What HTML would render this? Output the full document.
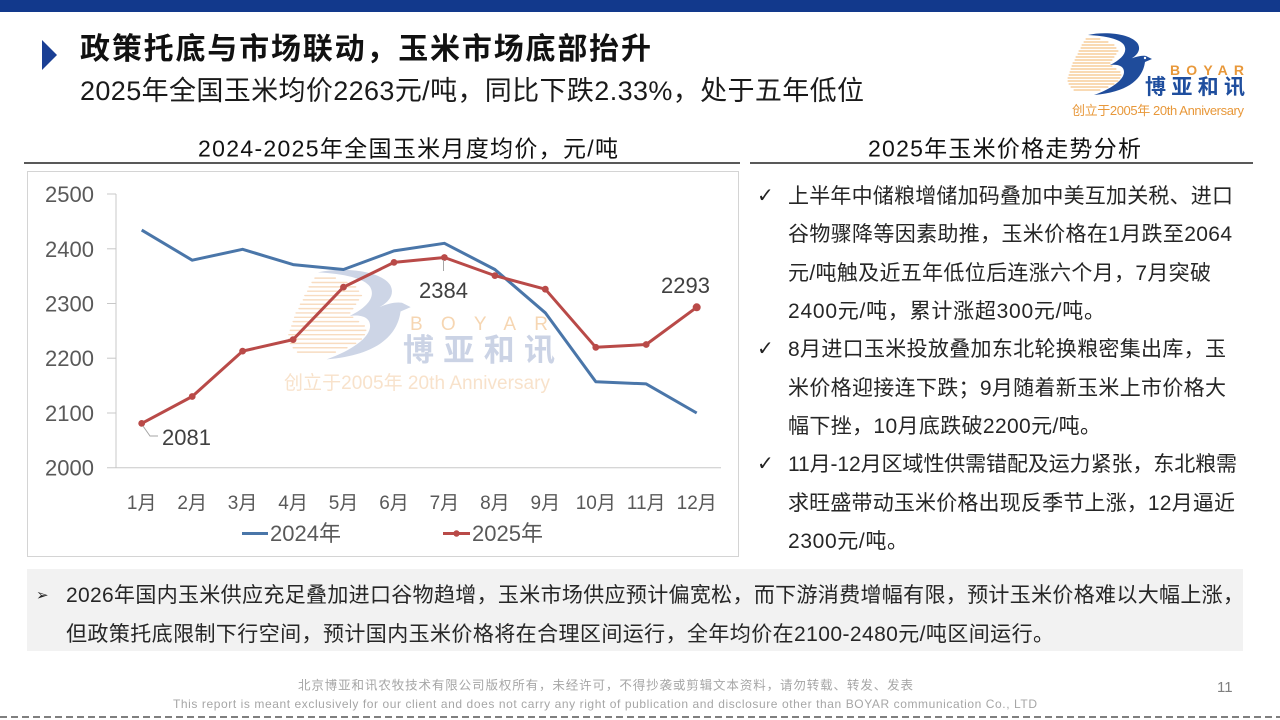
<!DOCTYPE html>
<html><head><meta charset="utf-8"><style>
html,body{margin:0;padding:0;background:#fff;}
svg{display:block;}
text{font-family:"Liberation Sans","Noto Sans CJK SC",sans-serif;}
</style></head><body>
<svg width="1280" height="720" viewBox="0 0 1280 720" xmlns="http://www.w3.org/2000/svg">
<defs>
<g id="stripes" stroke-width="1" stroke-linecap="round">
    <line x1="20" y1="7" x2="34" y2="7"/><line x1="18" y1="10" x2="42" y2="10"/>
    <line x1="16" y1="13" x2="48" y2="13"/><line x1="15" y1="16" x2="50" y2="16"/>
    <line x1="13" y1="19" x2="52" y2="19"/><line x1="12" y1="22" x2="50" y2="22"/>
    <line x1="10" y1="25" x2="48" y2="25"/><line x1="9" y1="28" x2="46" y2="28"/>
    <line x1="7" y1="31" x2="44" y2="31"/><line x1="6" y1="34" x2="46" y2="34"/>
    <line x1="5" y1="37" x2="50" y2="37"/><line x1="4" y1="40" x2="54" y2="40"/>
    <line x1="3" y1="43" x2="55" y2="43"/><line x1="2" y1="46" x2="54" y2="46"/>
    <line x1="2" y1="49" x2="52" y2="49"/><line x1="3" y1="52" x2="48" y2="52"/>
    <line x1="5" y1="55" x2="42" y2="55"/><line x1="8" y1="58" x2="34" y2="58"/>
</g>
<path id="bshape" d="M22,3 C40,-1 66,2 72,12 C76,20 68,26 60,29 C66,26 74,23 80,24 L86,27 L79,30 C77,45 65,60 28,63 C45,57 58,48 58,40 C58,34 52,32 44,33 C56,27 62,20 58,13 C54,7 40,4 22,3 Z"/>
</defs>

<!-- top bar -->
<rect x="0" y="0" width="1280" height="12" fill="#12398c"/>

<!-- title -->
<polygon points="42,40 57,55 42,70" fill="#1a3f94"/>
<text x="80" y="59" font-size="30" font-weight="bold" fill="#111" textLength="571">政策托底与市场联动，玉米市场底部抬升</text>
<text x="80" y="100" font-size="27" fill="#1a1a1a" textLength="784">2025年全国玉米均价2263元/吨，同比下跌2.33%，处于五年低位</text>

<!-- logo -->
<g transform="translate(1066,32)">
  <use href="#stripes" stroke="#f3b46a"/>
  <use href="#bshape" fill="#1f4c9b"/>
  <circle cx="79" cy="26" r="1.2" fill="#fff"/>
</g>
<text x="1170" y="75" font-size="14" font-weight="bold" fill="#e8983a" textLength="74">BOYAR</text>
<text x="1145" y="94" font-size="21" font-weight="bold" fill="#1f4e9e" textLength="100">博亚和讯</text>
<text x="1072" y="115" font-size="13" fill="#e8983a" textLength="172">创立于2005年 20th Anniversary</text>

<!-- section titles -->
<text x="198" y="156.5" font-size="23" fill="#111" textLength="420">2024-2025年全国玉米月度均价，元/吨</text>
<line x1="24" y1="163" x2="740" y2="163" stroke="#222" stroke-width="1.5"/>
<text x="868" y="156.5" font-size="23" fill="#111" textLength="273">2025年玉米价格走势分析</text>
<line x1="750" y1="163" x2="1253" y2="163" stroke="#222" stroke-width="1.5"/>

<!-- chart frame -->
<rect x="27.5" y="171.5" width="711" height="385" fill="#fff" stroke="#d4d4d4" stroke-width="1"/>

<!-- watermark -->
<g transform="translate(286,268) scale(1.45)">
  <use href="#stripes" stroke="#f8dcc0"/>
  <use href="#bshape" fill="#cdd5e6"/>
</g>
<text x="410" y="330" font-size="19" fill="#f6d6b2" textLength="138">BOYAR</text>
<text x="403" y="361" font-size="31" font-weight="bold" fill="#cbd3e5" textLength="152">博亚和讯</text>
<text x="284" y="389" font-size="19" fill="#f8e2cb" textLength="266">创立于2005年 20th Anniversary</text>

<!-- axes -->
<g stroke="#c8c8c8" stroke-width="1">
  <line x1="116" y1="194" x2="116" y2="467.7"/>
  <line x1="107" y1="467.7" x2="721" y2="467.7"/>
  <line x1="107" y1="194" x2="116" y2="194"/>
  <line x1="107" y1="248.8" x2="116" y2="248.8"/>
  <line x1="107" y1="303.5" x2="116" y2="303.5"/>
  <line x1="107" y1="358.2" x2="116" y2="358.2"/>
  <line x1="107" y1="413" x2="116" y2="413"/>
</g>
<g font-size="22" fill="#595959" text-anchor="end">
  <text x="94" y="202">2500</text>
  <text x="94" y="256.8">2400</text>
  <text x="94" y="311.5">2300</text>
  <text x="94" y="366.2">2200</text>
  <text x="94" y="421">2100</text>
  <text x="94" y="475.7">2000</text>
</g>
<g font-size="19" fill="#595959" text-anchor="middle">
  <text x="141.7" y="509">1月</text>
  <text x="192.2" y="509">2月</text>
  <text x="242.6" y="509">3月</text>
  <text x="293.1" y="509">4月</text>
  <text x="343.5" y="509">5月</text>
  <text x="394.0" y="509">6月</text>
  <text x="444.4" y="509">7月</text>
  <text x="494.9" y="509">8月</text>
  <text x="545.3" y="509">9月</text>
  <text x="595.8" y="509">10月</text>
  <text x="646.2" y="509">11月</text>
  <text x="696.7" y="509">12月</text>
</g>

<!-- series -->
<polyline fill="none" stroke="#4a76a9" stroke-width="3" stroke-linejoin="round" points="141.7,230.1 192.2,260.2 242.6,249.3 293.1,264.6 343.5,269.5 394.0,250.9 444.4,243.3 494.9,269.5 545.3,312.8 595.8,381.8 646.2,383.9 696.7,413.0"/>
<polyline fill="none" stroke="#b94a48" stroke-width="3" stroke-linejoin="round" points="141.7,423.4 192.2,396.5 242.6,351.1 293.1,339.6 343.5,287.1 394.0,262.4 444.4,257.5 494.9,275.6 545.3,289.2 595.8,347.3 646.2,344.5 696.7,307.3"/>
<g fill="#b94a48">
  <circle cx="141.7" cy="423.4" r="3.4"/><circle cx="192.2" cy="396.5" r="3.4"/>
  <circle cx="242.6" cy="351.1" r="3.4"/><circle cx="293.1" cy="339.6" r="3.4"/>
  <circle cx="343.5" cy="287.1" r="3.4"/><circle cx="394.0" cy="262.4" r="3.4"/>
  <circle cx="444.4" cy="257.5" r="3.4"/><circle cx="494.9" cy="275.6" r="3.4"/>
  <circle cx="545.3" cy="289.2" r="3.4"/><circle cx="595.8" cy="347.3" r="3.4"/>
  <circle cx="646.2" cy="344.5" r="3.4"/><circle cx="696.7" cy="307.3" r="4"/>
</g>

<!-- data labels -->
<polyline fill="none" stroke="#a6a6a6" stroke-width="1" points="143,426 150,436 158,436"/>
<line x1="443.5" y1="260" x2="443.5" y2="271" stroke="#a6a6a6" stroke-width="1"/>
<g font-size="22" fill="#404040">
  <text x="162" y="445">2081</text>
  <text x="419" y="298">2384</text>
  <text x="661" y="293">2293</text>
</g>

<!-- legend -->
<line x1="242" y1="533.5" x2="268" y2="533.5" stroke="#4a76a9" stroke-width="3"/>
<text x="270" y="541" font-size="22" fill="#595959">2024年</text>
<line x1="443" y1="533.5" x2="470" y2="533.5" stroke="#b94a48" stroke-width="3"/>
<circle cx="456.5" cy="533.5" r="3.2" fill="#b94a48"/>
<text x="472" y="541" font-size="22" fill="#595959">2025年</text>

<!-- right analysis -->
<g font-size="20" fill="#222">
  <text x="757" y="202" style="font-family:'DejaVu Sans',sans-serif">✓</text>
  <text x="757" y="355" style="font-family:'DejaVu Sans',sans-serif">✓</text>
  <text x="757" y="470" style="font-family:'DejaVu Sans',sans-serif">✓</text>
</g>
<g font-size="21" fill="#262626">
  <text x="788" y="203" textLength="445">上半年中储粮增储加码叠加中美互加关税、进口</text>
  <text x="788" y="241" textLength="444">谷物骤降等因素助推，玉米价格在1月跌至2064</text>
  <text x="788" y="280" textLength="423">元/吨触及近五年低位后连涨六个月，7月突破</text>
  <text x="788" y="318" textLength="317">2400元/吨，累计涨超300元/吨。</text>
  <text x="788" y="356" textLength="438">8月进口玉米投放叠加东北轮换粮密集出库，玉</text>
  <text x="788" y="395" textLength="438">米价格迎接连下跌；9月随着新玉米上市价格大</text>
  <text x="788" y="433" textLength="313">幅下挫，10月底跌破2200元/吨。</text>
  <text x="788" y="471" textLength="449">11月-12月区域性供需错配及运力紧张，东北粮需</text>
  <text x="788" y="510" textLength="447">求旺盛带动玉米价格出现反季节上涨，12月逼近</text>
  <text x="788" y="548" textLength="120">2300元/吨。</text>
</g>

<!-- bottom box -->
<rect x="27" y="569" width="1216" height="82" fill="#f2f2f2"/>
<text x="36" y="600" font-size="15" fill="#222" style="font-family:'DejaVu Sans',sans-serif">➢</text>
<text x="66" y="602" font-size="21" fill="#262626" textLength="1178">2026年国内玉米供应充足叠加进口谷物趋增，玉米市场供应预计偏宽松，而下游消费增幅有限，预计玉米价格难以大幅上涨，</text>
<text x="66" y="641" font-size="21" fill="#262626" textLength="988">但政策托底限制下行空间，预计国内玉米价格将在合理区间运行，全年均价在2100-2480元/吨区间运行。</text>

<!-- footer -->
<text x="298" y="689.5" font-size="12.5" fill="#a6a6a6" textLength="615">北京博亚和讯农牧技术有限公司版权所有，未经许可，不得抄袭或剪辑文本资料，请勿转载、转发、发表</text>
<text x="173" y="708" font-size="12" fill="#a6a6a6" textLength="864">This report is meant exclusively for our client and does not carry any right of publication and disclosure other than BOYAR communication Co., LTD</text>
<text x="1217" y="692" font-size="15" fill="#7f7f7f">11</text>
<line x1="0" y1="717" x2="1280" y2="717" stroke="#333" stroke-width="1.3" stroke-dasharray="7 4"/>
</svg>
</body></html>
